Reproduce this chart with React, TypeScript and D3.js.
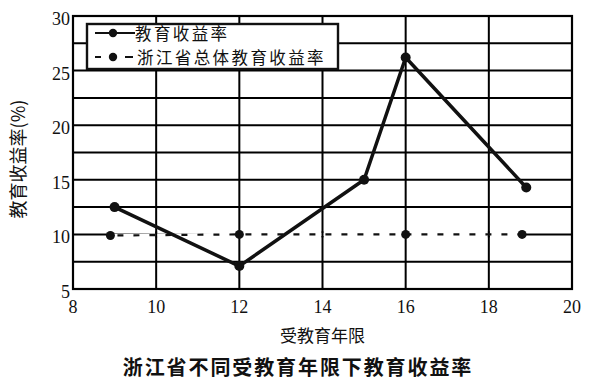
import React from "react";
import * as d3 from "d3";

const years = [9, 12, 15, 16, 18.9];
const rates = [12.5, 7.1, 15, 26.2, 14.3];
const overallYears = [8.9, 12, 16, 18.8];
const overallRates = [9.9, 10, 10, 10];
const xTicks = [8, 10, 12, 14, 16, 18, 20];
const yTicks = [5, 10, 15, 20, 25, 30];
const yGrid = [7.5, 10, 12.5, 15, 17.5, 20, 22.5, 25, 27.5];
const seriesNames = ["教育收益率", "浙江省总体教育收益率"];
const title = "浙江省不同受教育年限下教育收益率";
const xLabel = "受教育年限";
const yLabel = "教育收益率(%)";

const W = 600, H = 381;
const M = { left: 73, right: 572, top: 16, bottom: 289 };

export default function App() {
  const x = d3.scaleLinear().domain([8, 20]).range([M.left, M.right]);
  const y = d3.scaleLinear().domain([5, 30]).range([M.bottom, M.top]);
  const line = d3.line<[number, number]>().x(d => x(d[0])).y(d => y(d[1]));
  const main = years.map((v, i) => [v, rates[i]] as [number, number]);
  const overall = overallYears.map((v, i) => [v, overallRates[i]] as [number, number]);
  const serif = "'Liberation Serif', 'Times New Roman', serif";
  const cjk = "'Noto Sans CJK SC', sans-serif";
  return (
    <svg width={W} height={H} style={{ position: "absolute", left: 0, top: 0, background: "#fff" }}>
      <rect x={0} y={0} width={W} height={H} fill="#fff" />
      {xTicks.map(t => (
        <line key={"vx" + t} x1={x(t)} x2={x(t)} y1={M.top} y2={M.bottom} stroke="#000" strokeWidth={2} />
      ))}
      {yGrid.map(t => (
        <line key={"hy" + t} x1={M.left} x2={M.right} y1={y(t)} y2={y(t)} stroke="#000" strokeWidth={2} />
      ))}
      <rect x={M.left} y={M.top} width={M.right - M.left} height={M.bottom - M.top} fill="none" stroke="#000" strokeWidth={2.2} />
      {xTicks.map(t => (
        <text key={"xt" + t} x={x(t)} y={M.bottom + 24} textAnchor="middle" fontFamily={serif} fontSize={18} fill="#111">{t}</text>
      ))}
      {yTicks.map(t => (
        <text key={"yt" + t} x={M.left - 3} y={y(t) + 9} textAnchor="end" fontFamily={serif} fontSize={18} fill="#111">{t}</text>
      ))}
      <path d={line(overall) || ""} fill="none" stroke="#fff" strokeWidth={3.2} />
      {xTicks.map(t => (
        <line key={"vx2" + t} x1={x(t)} x2={x(t)} y1={y(10) - 3} y2={y(10) + 3} stroke="#000" strokeWidth={2} />
      ))}
      <path d={line(overall) || ""} fill="none" stroke="#111" strokeWidth={2.2} strokeDasharray="6,10" strokeDashoffset={-7} />
      {overall.map((d, i) => (
        <circle key={"oc" + i} cx={x(d[0])} cy={y(d[1])} r={4.5} fill="#111" />
      ))}
      <path d={line(main) || ""} fill="none" stroke="#111" strokeWidth={3.5} strokeLinejoin="round" />
      {main.map((d, i) => (
        <circle key={"mc" + i} cx={x(d[0])} cy={y(d[1])} r={5} fill="#111" />
      ))}
      <g>
        <rect x={87} y={24} width={251} height={45} fill="#fff" stroke="#111" strokeWidth={2.4} />
        <line x1={95} x2={135} y1={33} y2={33} stroke="#111" strokeWidth={2.2} />
        <circle cx={113} cy={33} r={4.2} fill="#111" />
        <text x={135} y={39.5} fontFamily={cjk} fontSize={16.5} letterSpacing={2.4} fill="#111">{seriesNames[0]}</text>
        <line x1={95} x2={135} y1={57} y2={57} stroke="#111" strokeWidth={2.2} strokeDasharray="6,24,8" />
        <circle cx={113} cy={57} r={4.2} fill="#111" />
        <text x={137} y={63.5} fontFamily={cjk} fontSize={16.5} letterSpacing={2.4} fill="#111">{seriesNames[1]}</text>
      </g>
      <text x={(M.left + M.right) / 2} y={342} textAnchor="middle" fontFamily={cjk} fontSize={17} fill="#111">{xLabel}</text>
      <text transform={`translate(25, 159) rotate(-90)`} textAnchor="middle" fontFamily={cjk} fontSize={18} fill="#111">{yLabel}</text>
      <text x={298} y={375} textAnchor="middle" fontFamily={cjk} fontSize={20} fontWeight="bold" letterSpacing={1.9} fill="#111">{title}</text>
    </svg>
  );
}
